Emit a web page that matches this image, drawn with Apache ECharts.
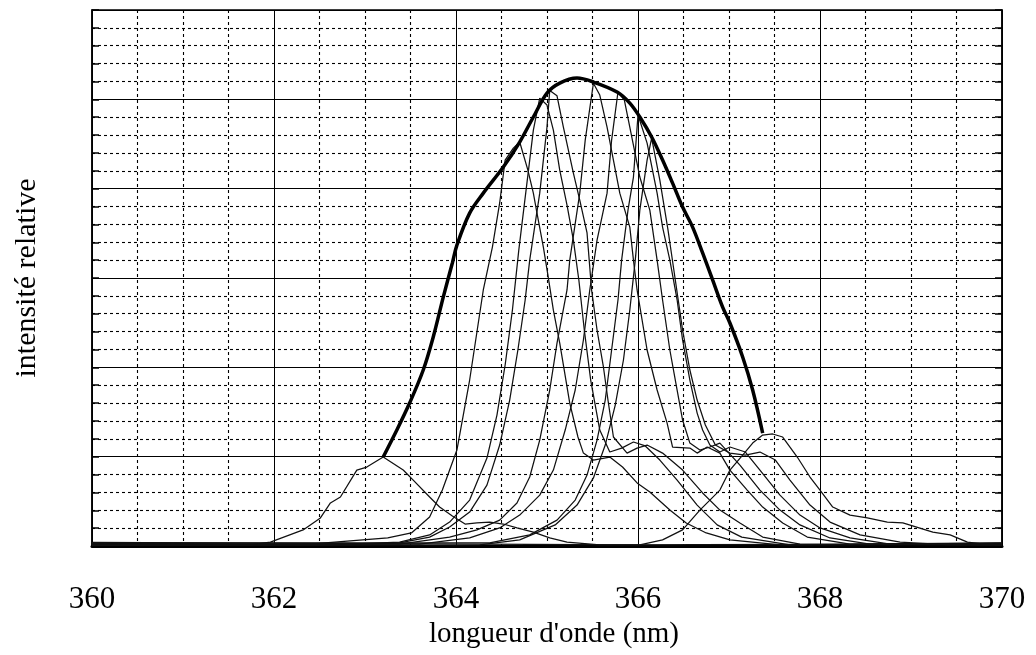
<!DOCTYPE html>
<html>
<head>
<meta charset="utf-8">
<script src="https://cdn.jsdelivr.net/npm/echarts@6/dist/echarts.min.js"></script>
<style>
html,body{margin:0;padding:0;background:#fff;}
#chart{width:1036px;height:655px;}
</style>
</head>
<body>
<div id="chart"></div>
<script>
// x ticks (nm)
const xTicks = [360, 362, 364, 366, 368, 370];
const xTitle = "longueur d'onde (nm)";
const yTitle = "intensité relative";

// envelope (thick line) : [wavelength nm, relative intensity]
const envelope = [[363.20,4.98],[363.35,6.49],[363.49,8.00],[363.64,9.85],[363.75,11.70],[363.86,13.93],[363.96,15.84],[364.01,16.84],[364.15,18.63],[364.30,19.75],[364.52,21.21],[364.70,22.61],[364.85,24.01],[365.00,25.35],[365.14,25.91],[365.33,26.19],[365.51,25.97],[365.77,25.41],[365.91,24.79],[366.02,24.01],[366.15,22.89],[366.27,21.60],[366.38,20.31],[366.49,18.97],[366.60,17.85],[366.71,16.40],[366.82,14.89],[366.93,13.37],[367.01,12.48],[367.15,10.58],[367.26,8.73],[367.37,6.32]];

// individual spectra (thin lines)
const specA = [[360.00,0.10],[361.74,0.06],[361.96,0.22],[362.32,0.90],[362.51,1.57],[362.62,2.41],[362.73,2.74],[362.91,4.25],[363.02,4.42],[363.20,4.98],[363.42,4.25],[363.53,3.69],[363.71,2.74],[363.82,2.18],[363.96,1.68],[364.10,1.23],[364.23,1.29],[364.37,1.34],[364.52,1.23],[364.67,1.01],[364.85,0.78],[365.03,0.45],[365.22,0.22],[365.58,0.06],[370.00,0.12]];
const specB = [[360.00,0.14],[362.29,0.06],[363.25,0.45],[363.51,0.73],[363.71,1.62],[363.85,3.13],[364.01,5.37],[364.15,9.29],[364.30,14.33],[364.40,16.73],[364.48,19.20],[364.54,21.60],[364.63,22.27],[364.70,22.61],[364.79,21.04],[364.85,19.75],[364.89,18.63],[364.96,16.73],[365.01,15.16],[365.07,13.20],[365.14,11.36],[365.25,8.00],[365.34,6.10],[365.40,5.20],[365.51,4.81],[365.69,4.98],[365.83,4.42],[365.99,3.53],[366.13,3.02],[366.35,2.01],[366.53,1.29],[366.75,0.73],[367.01,0.34],[367.56,0.06],[370.00,0.08]];
const specC = [[360.00,0.06],[362.62,0.06],[363.38,0.22],[363.71,0.62],[363.93,1.34],[364.15,2.57],[364.34,4.92],[364.45,7.33],[364.54,10.13],[364.62,13.21],[364.69,16.56],[364.77,19.92],[364.85,23.28],[364.92,25.07],[365.00,24.68],[365.07,23.28],[365.14,21.04],[365.22,19.08],[365.29,17.12],[365.35,14.89],[365.41,12.09],[365.48,9.29],[365.58,6.49],[365.69,5.26],[365.82,5.48],[365.95,5.82],[366.08,5.60],[366.24,4.81],[366.43,3.69],[366.65,2.29],[366.87,1.18],[367.14,0.50],[367.67,0.06],[370.00,0.14]];
const specD = [[360.00,0.16],[362.84,0.06],[363.38,0.17],[363.71,0.50],[363.93,1.06],[364.15,1.90],[364.34,3.41],[364.48,5.65],[364.59,8.17],[364.68,10.97],[364.76,13.77],[364.81,16.00],[364.92,19.75],[365.00,23.45],[365.03,25.50],[365.11,25.20],[365.18,23.45],[365.29,20.87],[365.36,19.36],[365.44,17.52],[365.49,14.33],[365.55,12.09],[365.62,10.02],[365.67,8.17],[365.73,6.10],[365.88,5.20],[365.99,5.48],[366.10,5.65],[366.27,5.20],[366.49,4.25],[366.71,2.97],[366.90,2.01],[367.12,1.29],[367.37,0.50],[367.78,0.11],[370.00,0.06]];
const specE = [[360.00,0.08],[363.38,0.11],[363.93,0.50],[364.23,0.90],[364.48,1.45],[364.67,2.41],[364.81,3.86],[364.92,5.93],[365.03,8.73],[365.11,11.36],[365.22,14.33],[365.25,16.00],[365.36,19.75],[365.42,22.72],[365.51,25.90],[365.58,25.24],[365.66,23.45],[365.73,21.60],[365.80,19.75],[365.91,17.85],[365.95,16.00],[365.99,14.33],[366.10,10.97],[366.21,8.73],[366.32,6.88],[366.38,5.54],[366.57,5.48],[366.65,5.20],[366.76,5.54],[366.90,5.20],[367.01,4.25],[367.20,3.13],[367.37,2.18],[367.59,1.29],[367.86,0.50],[368.33,0.11],[370.00,0.18]];
const specF = [[360.00,0.12],[363.60,0.11],[364.15,0.45],[364.48,1.01],[364.70,1.73],[364.92,2.85],[365.07,4.25],[365.20,6.49],[365.31,8.73],[365.40,11.53],[365.47,14.33],[365.55,17.12],[365.66,19.75],[365.71,22.72],[365.78,25.41],[365.85,24.96],[365.91,23.45],[366.02,20.65],[366.13,18.80],[366.21,16.00],[366.27,13.77],[366.35,10.97],[366.43,8.73],[366.49,7.05],[366.57,5.76],[366.68,5.37],[366.79,5.54],[366.90,5.76],[367.12,4.53],[367.34,3.13],[367.56,2.01],[367.78,1.18],[368.11,0.45],[368.55,0.11],[370.00,0.10]];
const specG = [[360.00,0.18],[364.37,0.17],[364.81,0.62],[365.11,1.45],[365.31,2.57],[365.44,3.97],[365.55,5.93],[365.64,8.17],[365.71,10.97],[365.78,13.77],[365.82,16.00],[365.89,18.80],[365.95,20.65],[366.00,24.12],[366.10,22.55],[366.21,19.75],[366.27,17.85],[366.35,16.00],[366.43,13.77],[366.49,11.53],[366.57,9.29],[366.65,7.44],[366.71,6.49],[366.79,5.65],[366.90,5.26],[367.01,5.54],[367.18,5.26],[367.34,4.25],[367.56,2.85],[367.78,1.73],[368.00,1.01],[368.33,0.45],[368.77,0.11],[370.00,0.16]];
const specH = [[360.00,0.04],[364.26,0.06],[364.70,0.34],[365.09,1.18],[365.33,2.29],[365.51,3.81],[365.64,5.65],[365.75,7.89],[365.84,10.41],[365.91,13.21],[365.97,16.00],[366.02,18.80],[366.10,21.60],[366.15,22.83],[366.24,20.48],[366.33,17.68],[366.41,14.89],[366.49,12.09],[366.57,9.85],[366.65,8.17],[366.74,6.77],[366.85,5.65],[367.01,5.20],[367.18,5.09],[367.34,5.26],[367.51,4.81],[367.67,3.69],[367.89,2.29],[368.11,1.34],[368.44,0.62],[368.88,0.22],[369.43,0.06],[370.00,0.04]];
const specI = [[360.00,0.20],[366.02,0.06],[366.27,0.34],[366.49,0.90],[366.68,2.01],[366.90,3.13],[367.01,4.25],[367.15,5.09],[367.26,5.76],[367.37,6.21],[367.48,6.27],[367.59,6.10],[367.75,4.98],[367.89,3.86],[368.00,3.13],[368.14,2.18],[368.33,1.73],[368.52,1.57],[368.74,1.34],[368.91,1.29],[369.24,0.78],[369.43,0.62],[369.62,0.22],[369.87,0.06],[370.00,0.14]];

const spectra = [specA, specB, specC, specD, specE, specF, specG, specH, specI];

const serif = "'Liberation Serif', 'DejaVu Serif', serif";
const dotted = { color: '#000', width: 1.1, type: [3, 3] };

const series = spectra.map(d => ({
  type: 'line', data: d, showSymbol: false, symbol: 'none', silent: true,
  lineStyle: { color: '#111', width: 1.25 }, z: 3
}));
series.push({
  type: 'line', data: envelope, showSymbol: false, symbol: 'none', silent: true,
  smooth: 0.35,
  lineStyle: { color: '#000', width: 3.5 }, z: 4
});

const chart = echarts.init(document.getElementById('chart'), null, { renderer: 'canvas' });
chart.setOption({
  animation: false,
  backgroundColor: '#fff',
  grid: { left: 92, right: 34, top: 10, bottom: 109, show: true, borderColor: '#000', borderWidth: 1.5 },
  xAxis: {
    type: 'value', min: xTicks[0], max: xTicks[xTicks.length - 1], interval: 2,
    name: xTitle, nameLocation: 'middle', nameGap: 72,
    nameTextStyle: { fontFamily: serif, fontSize: 29, color: '#000', padding: [0, 0, 0, 14] },
    axisLine: { show: true, onZero: false, lineStyle: { color: '#000', width: 3 } },
    axisTick: { show: false },
    axisLabel: { fontFamily: serif, fontSize: 31, color: '#000', margin: 38,
      formatter: v => xTicks.includes(v) ? String(v) : '' },
    splitLine: { show: true, lineStyle: { color: '#000', width: 1 } },
    minorTick: { show: false, splitNumber: 4 },
    minorSplitLine: { show: true, lineStyle: dotted }
  },
  yAxis: [{
    type: 'value', min: 0, max: 30, interval: 5,
    name: yTitle, nameLocation: 'middle', nameGap: 50, nameRotate: 90,
    nameTextStyle: { fontFamily: serif, fontSize: 30, color: '#000' },
    axisLine: { show: true, lineStyle: { color: '#000', width: 1.5 } },
    axisTick: { show: true, inside: true, length: 7, lineStyle: { color: '#000', width: 1.5 } },
    axisLabel: { show: false },
    splitLine: { show: true, lineStyle: { color: '#000', width: 1 } },
    minorTick: { show: true, splitNumber: 5, length: 7, lineStyle: { color: '#000', width: 1.5 } },
    minorSplitLine: { show: true, lineStyle: dotted }
  }, {
    type: 'value', min: 0, max: 30, interval: 5, position: 'right',
    axisLine: { show: true, lineStyle: { color: '#000', width: 1.5 } },
    axisTick: { show: true, inside: true, length: 7, lineStyle: { color: '#000', width: 1.5 } },
    axisLabel: { show: false },
    splitLine: { show: false },
    minorTick: { show: true, splitNumber: 5, length: 7, lineStyle: { color: '#000', width: 1.5 } }
  }],
  series: series
});
</script>
</body>
</html>
